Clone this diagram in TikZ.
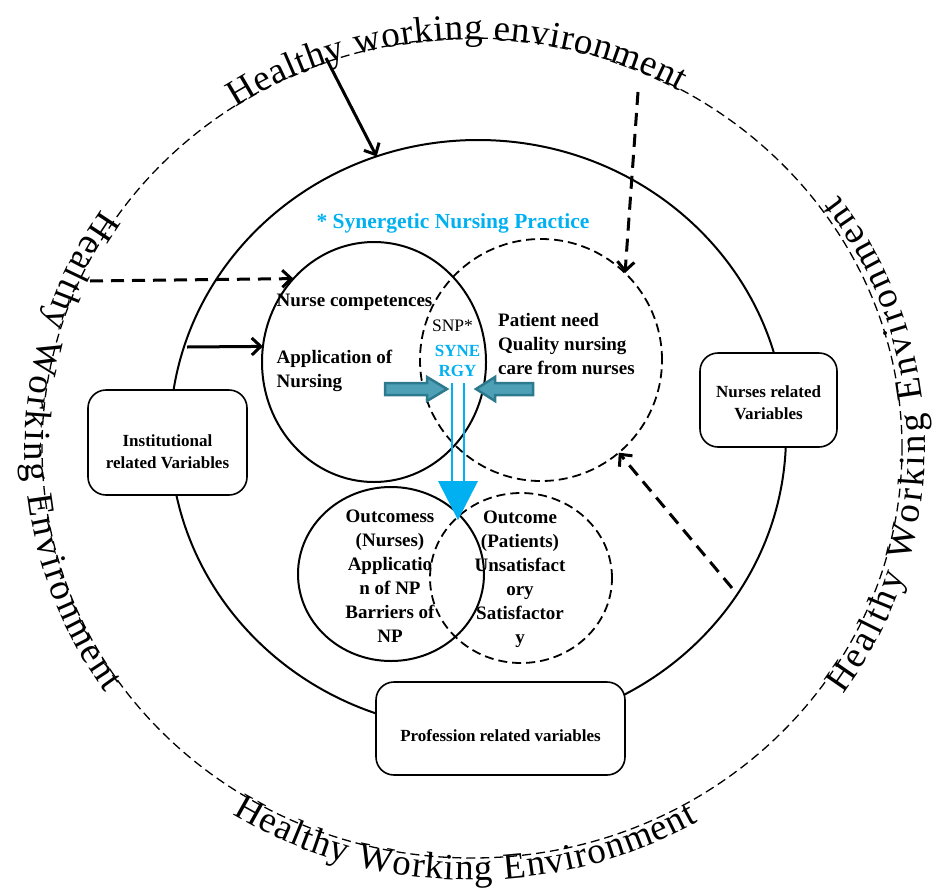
\documentclass[tikz,border=0pt]{standalone}
\usepackage{fontspec}
\setmainfont{Liberation Serif}
\usetikzlibrary{shapes.geometric,arrows.meta,decorations.text}

\definecolor{synblue}{RGB}{0,176,240}
\definecolor{tealedge}{RGB}{45,122,143}
\definecolor{tealfill}{RGB}{78,160,182}

\newcommand{\wefont}{\fontsize{37}{40}\selectfont}
\newcommand{\infont}{\fontsize{19}{24}\selectfont\bfseries}
\newcommand{\bxfont}{\fontsize{17}{21.5}\selectfont\bfseries}

\begin{document}
\begin{tikzpicture}[x=1pt,y=-1pt,
  thinring/.style={draw, ellipse, dash pattern=on 9pt off 5pt, line width=1.3pt, inner sep=0pt, outer sep=0pt},
  solidring/.style={draw, ellipse, line width=2pt, inner sep=0pt, outer sep=0pt},
  dashring/.style={draw, ellipse, dash pattern=on 9pt off 5pt, line width=1.8pt, inner sep=0pt, outer sep=0pt},
  varbox/.style={draw, rounded corners=18pt, fill=white, line width=1.6pt, inner sep=0pt},
  boxlabel/.style={align=center, font=\bxfont, inner sep=0pt},
  inlabel/.style={font=\infont, inner sep=0pt},
  feed/.style={line width=3pt, -{Straight Barb[length=9pt,width=17pt]}},
  feeddash/.style={feed, dash pattern=on 13pt off 8pt},
  synline/.style={draw=synblue, line width=2.5pt},
  blockarrow/.style={fill=tealfill, draw=tealedge, line width=2.5pt, line join=miter},
  wetext/.style={decorate, decoration={text along path, text align={fit to path}, text={|\wefont|Healthy Working Environment}}}
]
\useasboundingbox (0,0) rectangle (933,894);

% rings
\node[thinring, minimum width=860pt, minimum height=820pt] (outer) at (472,448) {};
\node[solidring, minimum width=616pt, minimum height=590pt] (big) at (478,435) {};
\node[solidring, minimum width=224pt, minimum height=240pt] (nc) at (374,362) {};
\node[dashring, minimum width=242pt, minimum height=242pt] (pn) at (541,360) {};
\node[solidring, minimum width=186pt, minimum height=174pt] (on) at (391,574) {};
\node[dashring, minimum width=182pt, minimum height=170pt] (op) at (521,578) {};

% variable boxes
\node[varbox, minimum width=159pt, minimum height=105pt] (inst) at (167.5,442.5) {};
\node[boxlabel] (instlabel) at (167.5,451.5) {Institutional\\related Variables};
\node[varbox, minimum width=137pt, minimum height=94pt] (nurs) at (768.5,400) {};
\node[boxlabel] (nurslabel) at (768.5,402.5) {Nurses related\\Variables};
\node[varbox, minimum width=249pt, minimum height=93pt] (prof) at (500.5,728.5) {};
\node[font=\bxfont, inner sep=0pt, anchor=base] (proflabel) at (500.5,741) {Profession related variables};

% curved environment captions
\path[wetext, decoration={text={|\wefont|Healthy working environment}}]
  (235.6,107.6) arc[start angle=236.5, end angle=299, x radius=428, y radius=407];
\path[wetext] (101.4,209.2) arc[start angle=214, end angle=145, x radius=447, y radius=427];
\path[wetext] (843.1,694.6) arc[start angle=35, end angle=-36, x radius=453, y radius=430];
\path[wetext] (232.5,814.4) arc[start angle=122, end angle=60, x radius=452, y radius=432];

% inner texts
\node[font=\fontsize{21.5}{24}\selectfont\bfseries, text=synblue, inner sep=0pt, anchor=base] (title) at (453,228) {* Synergetic Nursing Practice};
\node[inlabel, anchor=base west] (comp) at (276.5,306.5) {Nurse competences};
\node[inlabel, anchor=west, align=left] (appl) at (276.5,371) {Application of\\Nursing};
\node[inlabel, anchor=west, align=left] (need) at (498,344) {Patient need\\Quality nursing\\care from nurses};
\node[font=\fontsize{17.5}{20}\selectfont, inner sep=0pt, anchor=base] (snp) at (452.5,331.5) {SNP*};
\node[font=\fontsize{17}{20.5}\selectfont\bfseries, text=synblue, inner sep=0pt, align=center] (syn) at (457.5,361) {SYNE\\RGY};
\node[inlabel, align=center] (outn) at (390,576) {Outcomess\\(Nurses)\\Applicatio\\n of NP\\Barriers of\\NP};
\node[inlabel, align=center] (outp) at (520,579.5) {Outcome\\(Patients)\\Unsatisfact\\ory\\Satisfactor\\y};

% synergy arrow
\coordinate (synTop) at (458,383);
\coordinate (synBase) at (458,481);
\coordinate (synTip) at (458,520);
\draw[synline] ([xshift=-6pt]synTop) -- ([xshift=-6pt]synBase);
\draw[synline] ([xshift=6pt]synTop) -- ([xshift=6pt]synBase);
\fill[synblue] ([xshift=-20pt]synBase) -- ([xshift=20pt]synBase) -- (synTip) -- cycle;

% converging block arrows
\draw[blockarrow] (385,383) -- (427,383) -- (427,377) -- (447,389) -- (427,401) -- (427,395) -- (385,395) -- cycle;
\draw[blockarrow] (533,383) -- (495,383) -- (495,377) -- (476,389) -- (495,401) -- (495,395) -- (533,395) -- cycle;

% influence arrows
\coordinate (s1) at (326,58);
\coordinate (s2) at (638,92);
\coordinate (s3) at (90,281);
\coordinate (s4) at (187,347);
\coordinate (s5) at (732,588);
\draw[feed] (s1) -- (big.110.4);
\draw[feeddash] (s2) -- (pn.46);
\draw[feeddash] (s3) -- (nc.134);
\draw[feed] (s4) -- (nc.172);
\draw[feeddash] (s5) -- (pn.-50);
\end{tikzpicture}
\end{document}
